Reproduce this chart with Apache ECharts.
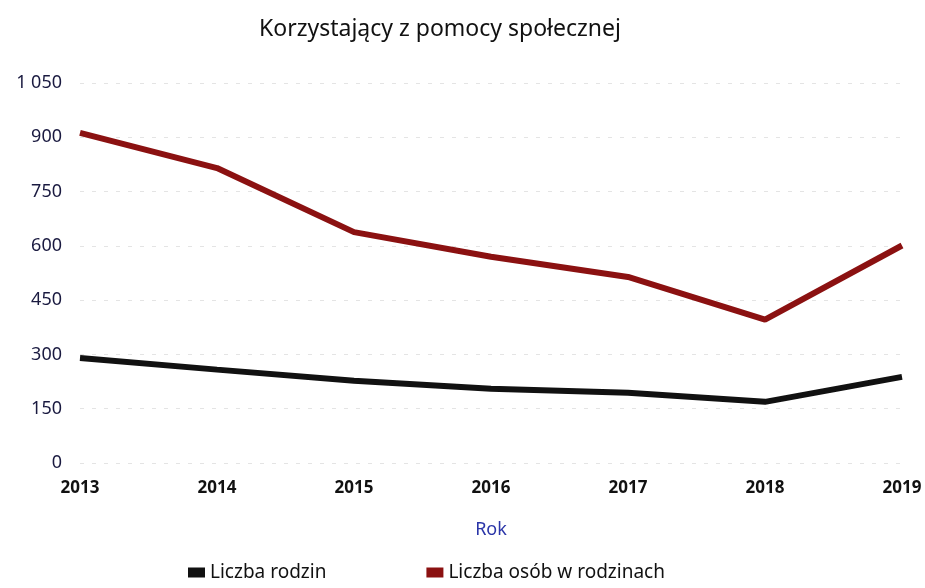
<!DOCTYPE html>
<html>
<head>
    <meta charset="utf-8"/>
    <title>Korzystający z pomocy społecznej</title>
    <style>
        html, body { margin: 0; padding: 0; background: #fff; }
        #chart { width: 925px; height: 588px; }
    </style>
</head>
<body>
<div id="chart"></div>
<script src="https://cdn.jsdelivr.net/npm/echarts@6/dist/echarts.min.js"></script>
<script>
    // dane
    var lata = ['2013', '2014', '2015', '2016', '2017', '2018', '2019'];
    var liczbaRodzin = [290, 258, 227, 205, 194, 169, 238];
    var liczbaOsob = [912, 815, 638, 570, 514, 396, 601];

    var chart = echarts.init(document.getElementById('chart'));
    var option = {
        textStyle: { fontFamily: 'Noto Sans' },
        title: {
            text: 'Korzystający z pomocy społecznej',
            left: 254,
            top: 13,
            textStyle: { color: '#111', fontSize: 23, fontWeight: 'normal' }
        },
        legend: {
            bottom: 1,
            left: 183,
            itemGap: 100,
            itemWidth: 17,
            itemHeight: 10,
            icon: 'rect',
            textStyle: { color: '#111', fontSize: 19 },
            data: ['Liczba rodzin', 'Liczba osób w rodzinach']
        },
        grid: { left: 80, right: 23, top: 83, bottom: 125 },
        xAxis: {
            type: 'category',
            data: lata,
            boundaryGap: false,
            name: 'Rok',
            nameLocation: 'middle',
            nameGap: 58,
            nameTextStyle: { color: '#2a35a8', fontSize: 18 },
            axisLine: { show: false },
            axisTick: { show: false },
            axisLabel: { color: '#111', fontSize: 17, fontWeight: 'bold', margin: 17 }
        },
        yAxis: {
            type: 'value',
            min: 0,
            max: 1050,
            interval: 150,
            axisLine: { show: false },
            axisTick: { show: false },
            axisLabel: {
                color: '#1a1a40',
                fontSize: 18,
                margin: 18,
                formatter: function (v) {
                    return v >= 1000 ? String(v).replace(/(\d)(\d{3})$/, '$1 $2') : v;
                }
            },
            splitLine: { lineStyle: { color: '#e4e4e4', type: [4, 8], width: 1 } }
        },
        series: [{
            name: 'Liczba rodzin',
            type: 'line',
            data: liczbaRodzin,
            symbol: 'none',
            color: '#111111',
            lineStyle: { width: 6, color: '#111111' }
        }, {
            name: 'Liczba osób w rodzinach',
            type: 'line',
            data: liczbaOsob,
            symbol: 'none',
            color: '#8b1111',
            lineStyle: { width: 6, color: '#8b1111' }
        }]
    };
    chart.setOption(option);
</script>
</body>
</html>
